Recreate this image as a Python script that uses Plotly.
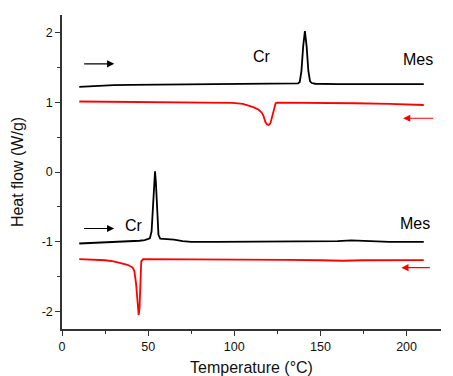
import plotly.graph_objects as go

# para-IDT(NCN)2 heating (black)
para_heat_x = [10, 20, 30, 40, 60, 80, 100, 120, 130, 135, 137, 138, 139, 140, 141, 142, 143, 144, 145, 147, 150, 160, 180, 200, 210]
para_heat_y = [1.22, 1.235, 1.245, 1.25, 1.255, 1.26, 1.26, 1.262, 1.263, 1.265, 1.27, 1.29, 1.45, 1.8, 2.02, 1.8, 1.45, 1.30, 1.275, 1.265, 1.262, 1.26, 1.26, 1.26, 1.26]

# para-IDT(NCN)2 cooling (red)
para_cool_x = [10, 30, 50, 70, 90, 99, 105, 111, 114, 116, 117, 118, 119, 120, 121, 122, 123, 124, 125, 130, 150, 170, 190, 210]
para_cool_y = [1.01, 1.005, 1.0, 1.0, 0.995, 0.99, 0.975, 0.93, 0.895, 0.85, 0.80, 0.72, 0.68, 0.675, 0.70, 0.80, 0.92, 0.985, 0.995, 0.995, 0.99, 0.985, 0.975, 0.96]

# meta-IDT(NCN)2 heating (black)
meta_heat_x = [10, 20, 30, 40, 45, 48, 50, 51, 52, 53, 53.5, 54, 54.5, 55, 56, 57, 60, 65, 70, 75, 90, 120, 150, 160, 168, 175, 180, 190, 210]
meta_heat_y = [-1.025, -1.015, -1.005, -0.995, -0.985, -0.975, -0.965, -0.95, -0.85, -0.45, -0.15, 0.01, -0.15, -0.5, -0.9, -0.955, -0.96, -0.97, -0.99, -1.0, -1.0, -1.0, -0.995, -0.99, -0.98, -0.985, -0.995, -1.0, -1.0]

# meta-IDT(NCN)2 cooling (red)
meta_cool_x = [10, 20, 25, 30, 35, 38, 40, 41, 42, 43, 44, 44.5, 45, 45.5, 46, 47, 50, 70, 100, 130, 150, 163, 175, 190, 210]
meta_cool_y = [-1.25, -1.255, -1.265, -1.28, -1.305, -1.33, -1.355, -1.37, -1.42, -1.6, -1.9, -2.05, -1.95, -1.6, -1.28, -1.25, -1.25, -1.25, -1.255, -1.26, -1.265, -1.272, -1.265, -1.262, -1.262]

x_ticks = [0, 50, 100, 150, 200]
y_ticks = [-2, -1, 0, 1, 2]

fig = go.Figure()
fig.add_trace(go.Scatter(x=para_heat_x, y=para_heat_y, mode="lines", line=dict(color="black", width=1.8), showlegend=False))
fig.add_trace(go.Scatter(x=para_cool_x, y=para_cool_y, mode="lines", line=dict(color="#ff0000", width=1.8), showlegend=False))
fig.add_trace(go.Scatter(x=meta_heat_x, y=meta_heat_y, mode="lines", line=dict(color="black", width=1.8), showlegend=False))
fig.add_trace(go.Scatter(x=meta_cool_x, y=meta_cool_y, mode="lines", line=dict(color="#ff0000", width=1.8), showlegend=False))

font = "Liberation Sans, Arial, sans-serif"

def arrow(x0, x1, y, color):
    fig.add_annotation(x=x1, y=y, ax=x0, ay=y, xref="x", yref="y", axref="x", ayref="y",
                       showarrow=True, arrowhead=2, arrowsize=1.3, arrowwidth=1.1,
                       arrowcolor=color, standoff=0, text="")

arrow(12, 30.3, 1.55, "black")
arrow(216.4, 198, 0.771, "#ff0000")
arrow(12, 30.3, -0.809, "black")
arrow(214.4, 197, -1.371, "#ff0000")

def label(x, y, text, anchor="center", size=16):
    fig.add_annotation(x=x, y=y, xref="x", yref="y", text=text, showarrow=False,
                       xanchor=anchor, yanchor="middle", font=dict(family=font, size=size, color="black"))

label(116.3, 1.65, "Cr")
label(206.5, 1.61, "Mes")
label(41.8, -0.76, "Cr")
label(204.9, -0.737, "Mes")
label(226.5, 0.39, "<b><i>para</i>-IDT(NCN)<sub>2</sub></b>", anchor="right")
label(226.5, -1.677, "<b><i>meta</i>-IDT(NCN)<sub>2</sub></b>", anchor="right")

axis_common = dict(showgrid=False, zeroline=False, showline=True, linecolor="#333333", linewidth=1.5,
                   ticks="outside", ticklen=5, tickwidth=1.2, tickcolor="#333333",
                   tickfont=dict(family=font, size=12.5, color="#111111"),
                   title_font=dict(family=font, size=16, color="#111111"))

fig.update_xaxes(range=[0, 220], tickvals=x_ticks, ticktext=[str(v) for v in x_ticks],
                 title_text="Temperature (°C)", title_standoff=10,
                 minor=dict(dtick=25, tick0=0, ticklen=3, ticks="outside", tickwidth=1, tickcolor="#333333"),
                 **axis_common)
fig.update_yaxes(range=[-2.25, 2.25], tickvals=y_ticks, ticktext=[str(v) for v in y_ticks],
                 title_text="Heat flow (W/g)", title_standoff=14,
                 minor=dict(dtick=0.5, tick0=0, ticklen=3, ticks="outside", tickwidth=1, tickcolor="#333333"),
                 **axis_common)

fig.update_layout(width=453, height=376, margin=dict(l=62, r=12, t=15, b=47, autoexpand=False),
                  plot_bgcolor="white", paper_bgcolor="white", font=dict(family=font))

fig.write_html("out.html", config={"displayModeBar": False},
               post_script="document.body.style.margin='0';document.body.style.overflow='hidden';")
